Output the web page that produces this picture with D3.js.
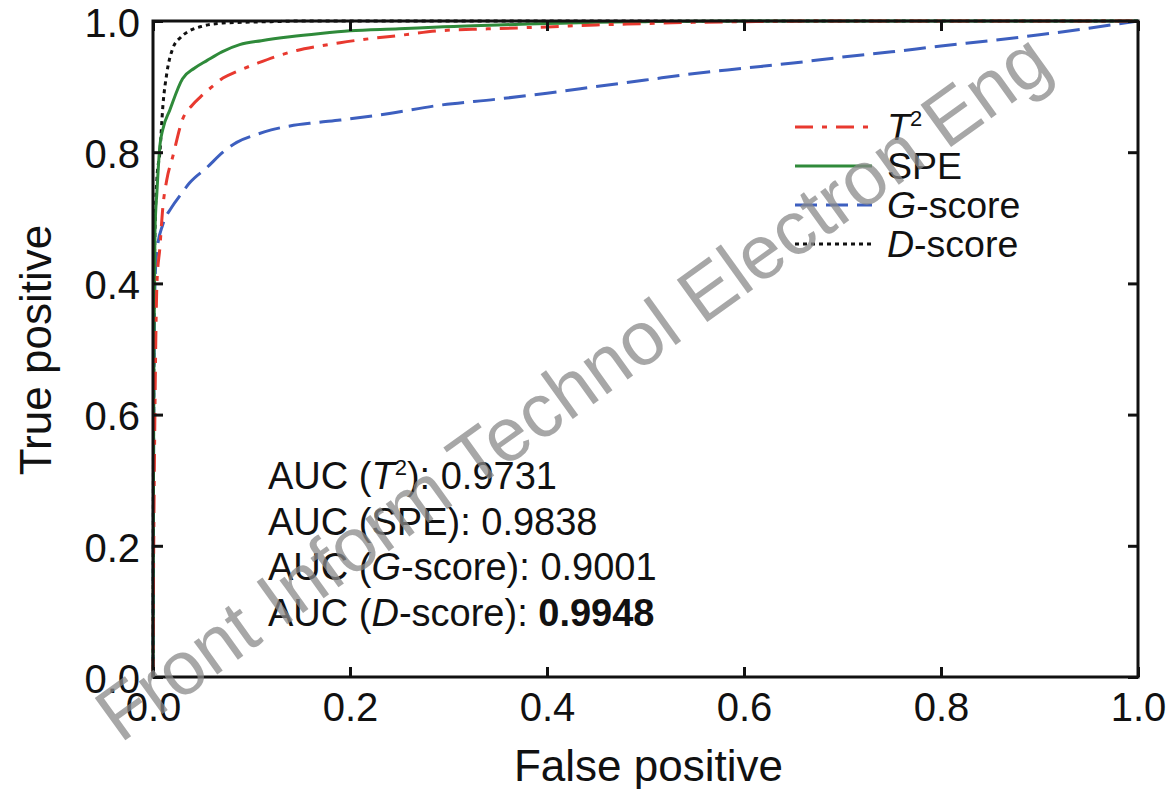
<!DOCTYPE html>
<html>
<head>
<meta charset="utf-8">
<script src="https://cdn.jsdelivr.net/npm/d3@7"></script>
<style>
  html, body { margin: 0; padding: 0; background: #fff; }
  svg { display: block; font-family: Arial, "Liberation Sans", Helvetica, sans-serif; }
</style>
</head>
<body>
<svg id="chart" width="1172" height="789"></svg>
<script>
// ---------------- data ----------------
const xTickValues = [0, 0.2, 0.4, 0.6, 0.8, 1.0];
const xTickLabels = ["0.0", "0.2", "0.4", "0.6", "0.8", "1.0"];
const yTickValues = [0, 0.2, 0.4, 0.6, 0.8, 1.0];
const yTickLabels = ["0.0", "0.2", "0.6", "0.4", "0.8", "1.0"]; // as printed in the original

const t2Fpr = [0, 0.0005, 0.001, 0.002, 0.004, 0.007, 0.01, 0.014, 0.02, 0.03, 0.04, 0.048, 0.06, 0.071, 0.085, 0.105, 0.125, 0.146, 0.17, 0.19, 0.22, 0.25, 0.29, 0.34, 0.4, 0.45, 0.5, 0.55, 0.6, 0.7, 0.8, 0.9, 1.0];
const t2Tpr = [0, 0.15, 0.25, 0.41, 0.6, 0.655, 0.716, 0.758, 0.793, 0.85, 0.872, 0.884, 0.9, 0.913, 0.923, 0.935, 0.946, 0.955, 0.962, 0.967, 0.973, 0.978, 0.985, 0.988, 0.991, 0.994, 0.996, 0.998, 0.999, 1, 1, 1, 1];

const speFpr = [0, 0.0005, 0.001, 0.002, 0.004, 0.007, 0.01, 0.017, 0.03, 0.042, 0.055, 0.07, 0.088, 0.11, 0.139, 0.17, 0.2, 0.25, 0.29, 0.35, 0.4, 0.45, 0.5, 0.6, 0.8, 1];
const speTpr = [0, 0.3, 0.5, 0.68, 0.74, 0.81, 0.835, 0.864, 0.912, 0.928, 0.94, 0.953, 0.964, 0.97, 0.976, 0.981, 0.985, 0.988, 0.991, 0.994, 0.996, 0.998, 0.999, 1, 1, 1];

const gFpr = [0, 0.0005, 0.001, 0.002, 0.004, 0.01, 0.019, 0.028, 0.037, 0.055, 0.071, 0.085, 0.105, 0.12, 0.139, 0.165, 0.19, 0.24, 0.288, 0.35, 0.4, 0.45, 0.5, 0.55, 0.6, 0.65, 0.7, 0.75, 0.8, 0.85, 0.9, 0.95, 1];
const gTpr = [0, 0.3, 0.45, 0.6, 0.65, 0.69, 0.716, 0.735, 0.753, 0.777, 0.8, 0.815, 0.827, 0.834, 0.84, 0.845, 0.849, 0.859, 0.871, 0.881, 0.89, 0.9, 0.91, 0.92, 0.928, 0.936, 0.945, 0.953, 0.962, 0.97, 0.979, 0.989, 1];

const dFpr = [0, 0.0005, 0.001, 0.002, 0.004, 0.007, 0.01, 0.014, 0.02, 0.028, 0.037, 0.05, 0.071, 0.09, 0.12, 0.15, 1];
const dTpr = [0, 0.35, 0.55, 0.68, 0.76, 0.8, 0.87, 0.92, 0.958, 0.975, 0.985, 0.992, 0.997, 0.998, 0.999, 1, 1];

const seriesNames = ["T2", "SPE", "G-score", "D-score"];
const aucValues = ["0.9731", "0.9838", "0.9001", "0.9948"];

// ---------------- layout ----------------
const svg = d3.select("#chart");
const margin = { left: 153, right: 34, top: 21, bottom: 112 };
const W = 1172, H = 789;
const x = d3.scaleLinear().domain([0, 1]).range([margin.left, W - margin.right]);
const y = d3.scaleLinear().domain([0, 1]).range([H - margin.bottom, margin.top]);

const series = [
  { name: seriesNames[0], fpr: t2Fpr, tpr: t2Tpr, color: "#e8392f", dash: "18,9,5,9" },
  { name: seriesNames[1], fpr: speFpr, tpr: speTpr, color: "#2f8a3a", dash: null },
  { name: seriesNames[2], fpr: gFpr, tpr: gTpr, color: "#3d5fbf", dash: "22,9" },
  { name: seriesNames[3], fpr: dFpr, tpr: dTpr, color: "#111111", dash: "4,4" }
];

const line = d3.line().curve(d3.curveMonotoneX).x(d => x(d[0])).y(d => y(d[1]));

// curves
const curves = svg.append("g");
series.slice().reverse().forEach(s => {
  curves.append("path")
    .datum(s.fpr.map((f, i) => [f, s.tpr[i]]))
    .attr("d", line)
    .attr("fill", "none")
    .attr("stroke", s.color)
    .attr("stroke-width", 3)
    .attr("stroke-dasharray", s.dash)
    .attr("stroke-linejoin", "round");
});

// axes (inward ticks on all sides)
const fontTick = 40;
const xAxis = d3.axisBottom(x).tickValues(xTickValues).tickFormat((d, i) => xTickLabels[i])
  .tickSizeInner(-10).tickSizeOuter(0).tickPadding(16);
const yAxis = d3.axisLeft(y).tickValues(yTickValues).tickFormat((d, i) => yTickLabels[i])
  .tickSizeInner(-10).tickSizeOuter(0).tickPadding(13);
const xTop = d3.axisTop(x).tickValues(xTickValues).tickFormat("").tickSizeInner(-10).tickSizeOuter(0);
const yRight = d3.axisRight(y).tickValues(yTickValues).tickFormat("").tickSizeInner(-10).tickSizeOuter(0);

function styleAxis(g) {
  g.select(".domain").remove();
  g.selectAll(".tick line").attr("stroke", "#111").attr("stroke-width", 3);
  g.selectAll(".tick text").attr("fill", "#111").style("font-size", fontTick + "px");
}
svg.append("g").attr("transform", `translate(0,${y(0)})`).call(xAxis).call(styleAxis);
const gy = svg.append("g").attr("transform", `translate(${x(0)},0)`).call(yAxis).call(styleAxis);
gy.selectAll(".tick text").attr("dy", "0.38em");
svg.append("g").attr("transform", `translate(0,${y(1)})`).call(xTop).call(styleAxis);
svg.append("g").attr("transform", `translate(${x(1)},0)`).call(yRight).call(styleAxis);

// frame
svg.append("rect")
  .attr("x", x(0)).attr("y", y(1))
  .attr("width", x(1) - x(0)).attr("height", y(0) - y(1))
  .attr("fill", "none").attr("stroke", "#111").attr("stroke-width", 3);

// axis titles
svg.append("text").attr("x", (x(0) + x(1)) / 2 + 3).attr("y", 781)
  .attr("text-anchor", "middle").style("font-size", "44px").attr("fill", "#111")
  .text("False positive");
svg.append("text").attr("transform", `translate(51,${(y(0) + y(1)) / 2 + 1}) rotate(-90)`)
  .attr("text-anchor", "middle").style("font-size", "44px").attr("fill", "#111")
  .text("True positive");

// legend
const legend = svg.append("g");
const legY0 = 127, legDy = 39;
series.forEach((s, i) => {
  const yy = legY0 + i * legDy;
  legend.append("line")
    .attr("x1", 795).attr("x2", 872).attr("y1", yy).attr("y2", yy)
    .attr("stroke", s.color).attr("stroke-width", 3)
    .attr("stroke-dasharray", s.dash);
  const t = legend.append("text").attr("x", 887).attr("y", yy + 13)
    .style("font-size", "37.5px").attr("fill", "#111");
  if (i === 0) {
    t.append("tspan").style("font-style", "italic").text("T");
    t.append("tspan").attr("dy", -14).style("font-size", "22px").text("2");
  } else if (i === 1) {
    t.text("SPE");
  } else {
    t.append("tspan").style("font-style", "italic").text(s.name.charAt(0));
    t.append("tspan").text(s.name.slice(1));
  }
});

// AUC annotations
const auc = svg.append("g");
const aucX = 268, aucY0 = 489, aucDy = 45.5;
series.forEach((s, i) => {
  const t = auc.append("text").attr("x", aucX).attr("y", aucY0 + i * aucDy)
    .style("font-size", "38px").attr("fill", "#111");
  t.append("tspan").text("AUC (");
  if (i === 0) {
    t.append("tspan").style("font-style", "italic").text("T");
    t.append("tspan").attr("dy", -14).style("font-size", "22px").text("2");
    t.append("tspan").attr("dy", 14).text("): ");
  } else if (i === 1) {
    t.append("tspan").text("SPE): ");
  } else {
    t.append("tspan").style("font-style", "italic").text(s.name.charAt(0));
    t.append("tspan").text(s.name.slice(1) + "): ");
  }
  const v = t.append("tspan").text(aucValues[i]);
  if (i === 3) v.style("font-weight", "bold");
});

// watermark
svg.append("text")
  .attr("transform", "translate(588,408) rotate(-35.7)")
  .attr("text-anchor", "middle")
  .style("font-size", "76px")
  .attr("fill", "#8a8a8a").attr("fill-opacity", 0.75)
  .text("Front Inform Technol Electron Eng");
</script>
</body>
</html>
